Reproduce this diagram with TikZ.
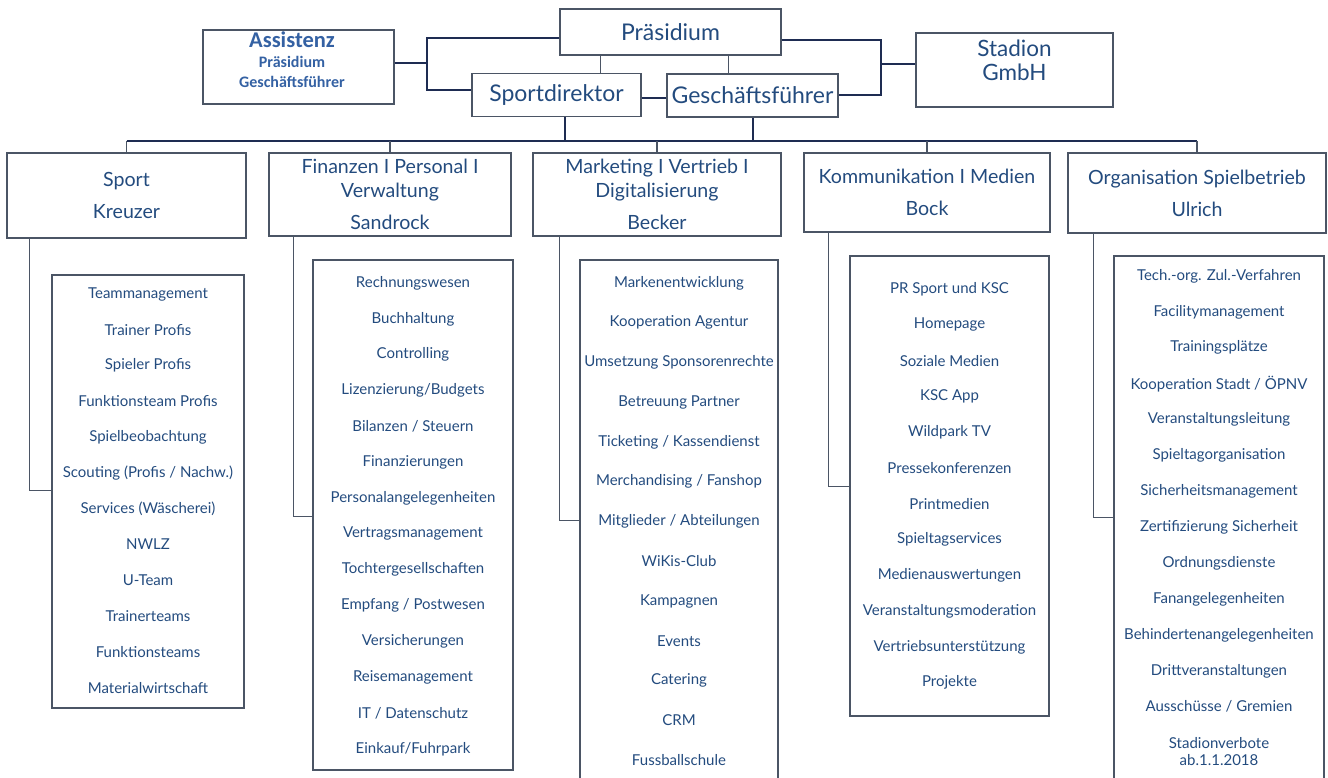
\documentclass[tikz,border=0pt]{standalone}
\usepackage{fontspec}
\setmainfont{Lato}
\newfontfamily\calfont{Carlito}
\usetikzlibrary{positioning}

\definecolor{navytext}{HTML}{234B7E}
\definecolor{boxgrey}{HTML}{4B5565}
\definecolor{barnavy}{HTML}{1E2C52}
\definecolor{assiblue}{HTML}{3461A3}

\begin{document}
\begin{tikzpicture}[x=1pt,y=-1pt,
    box/.style={draw=boxgrey, line width=1.4pt, inner sep=0pt, text=navytext, align=center},
    chief/.style={box, font=\fontsize{23}{24}\selectfont},
    dept/.style={box, font=\fontsize{19.6}{24}\selectfont},
    task/.style={text=navytext, inner sep=0pt, align=center, font=\fontsize{15}{17}\selectfont},
    link/.style={draw=boxgrey, line width=1.3pt},
    toplink/.style={draw=barnavy, line width=2pt}]
    \useasboundingbox (0,0) rectangle (1328,778);
    \clip (0,0) rectangle (1328,778);

    % top level
    \node[chief, minimum width=221, minimum height=46] (praes) at (670.5,32) {Präsidium};
    \node[chief, minimum width=169, minimum height=43] (sd) at (556.5,95) {Sportdirektor};
    \node[chief, minimum width=171, minimum height=43] (gf) at (752.5,95.5) {Geschäftsführer};
    \node[box, minimum width=191, minimum height=74] (assi) at (298.5,67) {};
    \node[text=assiblue, align=center, font=\calfont\bfseries\fontsize{16}{20}\selectfont] (assi-txt) at (292,60)
      {{\fontsize{22.5}{21}\selectfont Assistenz}\\Präsidium\\Geschäftsführer};
    \node[box, minimum width=197, minimum height=74] (stadion) at (1014.5,70) {};
    \node[text=navytext, align=center, font=\fontsize{22.5}{24}\selectfont] (stadion-txt) at (1014.5,60) {Stadion\\GmbH};

    \coordinate (lbus) at (427,63);
    \coordinate (rbus) at (881,64);
    \coordinate (bus) at (0,141);

    \draw[toplink] ([yshift=-6pt]praes.west) -| ([yshift=5pt]sd.west -| lbus) -- ([yshift=5pt]sd.west);
    \draw[toplink] (assi.east |- lbus) -- (lbus);
    \draw[toplink] ([yshift=-8pt]praes.east) -| (gf.east -| rbus) -- (gf.east);
    \draw[toplink] (rbus) -- (stadion.west |- rbus);
    \draw[toplink] ([yshift=-3pt]sd.east) -- ([yshift=-3pt]sd.east -| gf.west);
    \draw[link] ([xshift=44pt]sd.north) -- ([xshift=44pt]sd.north |- praes.south);
    \draw[link] ([xshift=-24pt]gf.north) -- ([xshift=-24pt]gf.north |- praes.south);

    % departments
    \node[dept, minimum width=239, minimum height=85] (sport) at (126.5,195.5) {Sport\\[8pt]Kreuzer};
    \node[dept, minimum width=242, minimum height=83] (fin) at (390,194.5) {Finanzen I Personal I\\Verwaltung\\[8pt]Sandrock};
    \node[dept, minimum width=248, minimum height=83] (mkt) at (657,194.5) {Marketing I Vertrieb I\\Digitalisierung\\[8pt]Becker};
    \node[dept, minimum width=246, minimum height=79] (kom) at (927,192.5) {Kommunikation I Medien\\[8pt]Bock};
    \node[dept, minimum width=258, minimum height=80] (org) at (1197,193) {Organisation Spielbetrieb\\[8pt]Ulrich};

    \draw[toplink] ([xshift=8pt]sd.south) -- ([xshift=8pt]sd.south |- bus);
    \draw[toplink] (gf.south) -- (gf.south |- bus);
    \draw[toplink] (sport.north |- bus) -- (org.north |- bus);
    \foreach \c in {sport,fin,mkt,kom,org}
      \draw[link] (\c.north) -- (\c.north |- bus);

    % task lists
    \node[box, minimum width=192, minimum height=433] (sport-list) at (148,491.5) {};
    \node[box, minimum width=200, minimum height=510] (fin-list) at (413,515) {};
    \node[box, minimum width=198, minimum height=540] (mkt-list) at (679,530) {};
    \node[box, minimum width=199, minimum height=460] (kom-list) at (949.5,486) {};
    \node[box, minimum width=210, minimum height=544] (org-list) at (1219,528) {};

    \draw[link] ([xshift=23pt]sport.south west) |- ([yshift=-216pt]sport-list.north west);
    \draw[link] ([xshift=25pt]fin.south west) |- ([yshift=-257pt]fin-list.north west);
    \draw[link] ([xshift=27pt]mkt.south west) |- ([yshift=-261pt]mkt-list.north west);
    \draw[link] ([xshift=25pt]kom.south west) |- ([yshift=-231pt]kom-list.north west);
    \draw[link] ([xshift=26pt]org.south west) |- ([yshift=-262pt]org-list.north west);

    \foreach \t [count=\i] in {Teammanagement, Trainer Profis, Spieler Profis, Funktionsteam Profis,
        Spielbeobachtung, Scouting (Profis / Nachw.), Services (Wäscherei), NWLZ, U-Team,
        Trainerteams, Funktionsteams, Materialwirtschaft}
      \node[task] (sport-\i) at (148,{258.2+35.8*\i}) {\t};
    \foreach \t [count=\i] in {Rechnungswesen, Buchhaltung, Controlling, Lizenzierung/Budgets,
        Bilanzen / Steuern, Finanzierungen, Personalangelegenheiten, Vertragsmanagement,
        Tochtergesellschaften, Empfang / Postwesen, Versicherungen, Reisemanagement,
        IT / Datenschutz, Einkauf/Fuhrpark}
      \node[task] (fin-\i) at (413,{247.15+35.85*\i}) {\t};
    \foreach \t [count=\i] in {Markenentwicklung, Kooperation Agentur, Umsetzung Sponsorenrechte,
        Betreuung Partner, Ticketing / Kassendienst, Merchandising / Fanshop,
        Mitglieder / Abteilungen, WiKis-Club, Kampagnen, Events, Catering, CRM, Fussballschule}
      \node[task] (mkt-\i) at (679,{243.25+39.75*\i}) {\t};
    \foreach \t [count=\i] in {PR Sport und KSC, Homepage, Soziale Medien, KSC App, Wildpark TV,
        Pressekonferenzen, Printmedien, Spieltagservices, Medienauswertungen,
        Veranstaltungsmoderation, Vertriebsunterstützung, Projekte}
      \node[task] (kom-\i) at (949.5,{253.2+35.8*\i}) {\t};
    \foreach \t [count=\i] in {Tech.-org. Zul.-Verfahren, Facilitymanagement, Trainingsplätze,
        Kooperation Stadt / ÖPNV, Veranstaltungsleitung, Spieltagorganisation,
        Sicherheitsmanagement, Zertifizierung Sicherheit, Ordnungsdienste, Fanangelegenheiten,
        Behindertenangelegenheiten, Drittveranstaltungen, Ausschüsse / Gremien}
      \node[task] (org-\i) at (1219,{240.1+35.9*\i}) {\t};
    \node[task] (org-14) at (1219,751.5) {Stadionverbote\\ab.1.1.2018};
\end{tikzpicture}
\end{document}
